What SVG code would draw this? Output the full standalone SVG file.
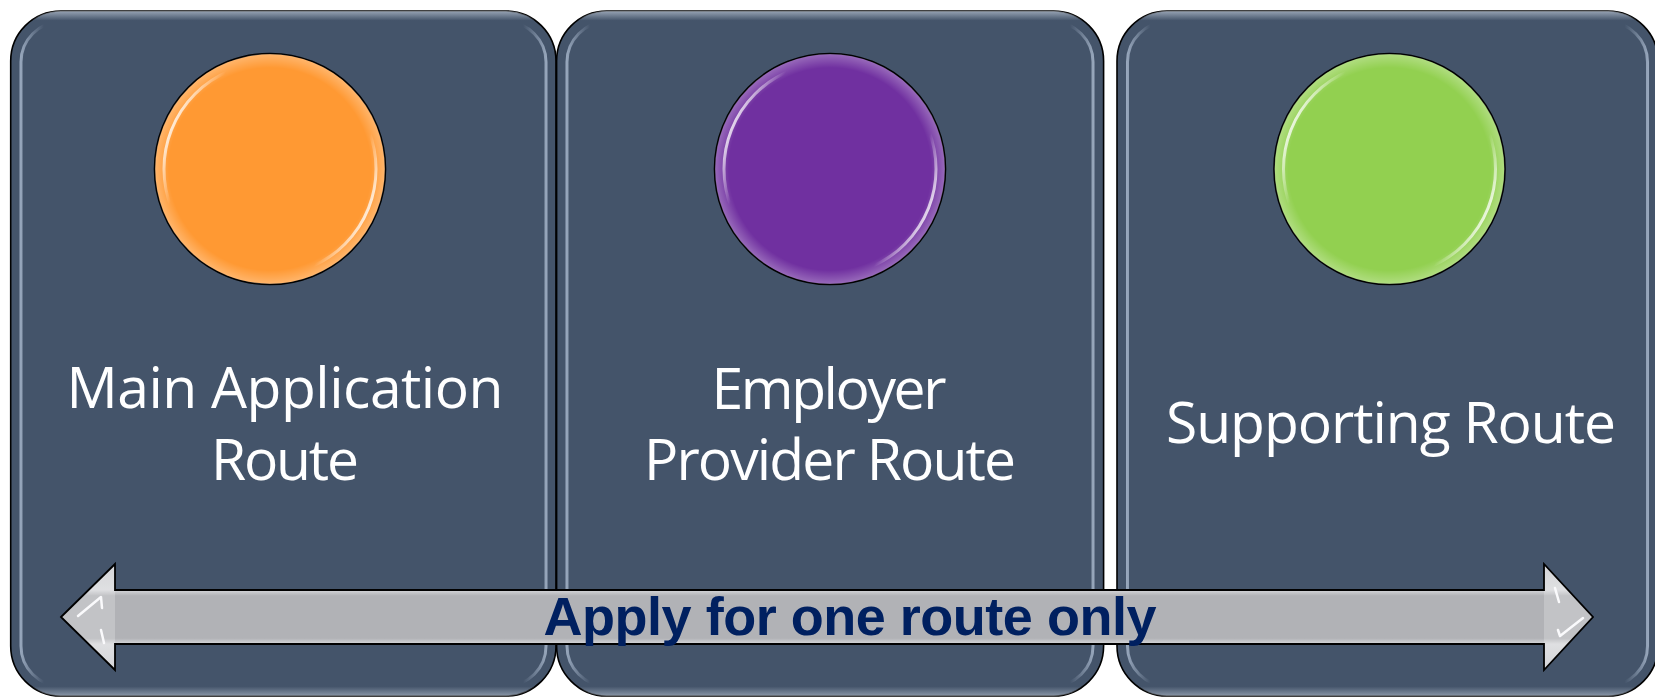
<svg xmlns="http://www.w3.org/2000/svg" width="1655" height="698" viewBox="0 0 1655 698">
<style>
.box{fill:#44546A;stroke:#000;stroke-width:1.6}
.boxhl{fill:none;stroke:#C9D8EC;stroke-width:3}
.label{font-family:"Open Sans","Liberation Sans",sans-serif;font-size:57px;fill:#FFFFFF;text-anchor:middle}
.ball{stroke:#000;stroke-width:1.6}
.ballhl{fill:none;stroke:#FFFFFF;stroke-width:3}
.arrowfill{fill:url(#arrowGrad);stroke:none}
.arrowline{fill:none;stroke:#000;stroke-width:1.8;stroke-linejoin:miter}
.headface{fill:#FFFFFF;opacity:0.22}
.arrowhl{fill:none;stroke:#FAFAFC;stroke-width:2.5;stroke-linecap:round;stroke-linejoin:round}
.apply{font-family:"Liberation Sans",Arial,sans-serif;font-weight:bold;font-size:54px;fill:#002060;text-anchor:middle}
</style>
<defs>
  <linearGradient id="edgeMaskGrad" x1="0" y1="0" x2="1" y2="0">
    <stop offset="0" stop-color="#fff"/>
    <stop offset="0.06" stop-color="#fff"/>
    <stop offset="0.12" stop-color="#000"/>
    <stop offset="0.88" stop-color="#000"/>
    <stop offset="0.94" stop-color="#fff"/>
    <stop offset="1" stop-color="#fff"/>
  </linearGradient>
  <mask id="edgeMask" maskContentUnits="objectBoundingBox">
    <rect x="-0.1" y="-0.1" width="1.2" height="1.2" fill="url(#edgeMaskGrad)"/>
  </mask>
  <linearGradient id="topBand" x1="0" y1="0" x2="0" y2="1">
    <stop offset="0" stop-color="#DDE6F2" stop-opacity="0.55"/>
    <stop offset="0.014" stop-color="#DDE6F2" stop-opacity="0"/>
    <stop offset="0.986" stop-color="#DDE6F2" stop-opacity="0"/>
    <stop offset="1" stop-color="#DDE6F2" stop-opacity="0.45"/>
  </linearGradient>
  <linearGradient id="ballMaskGrad" gradientUnits="userSpaceOnUse" x1="-106" y1="-45" x2="106" y2="45">
    <stop offset="0" stop-color="#fff"/>
    <stop offset="0.16" stop-color="#000"/>
    <stop offset="0.84" stop-color="#000"/>
    <stop offset="1" stop-color="#fff"/>
  </linearGradient>
  <mask id="ballMask" maskUnits="userSpaceOnUse" x="-130" y="-130" width="260" height="260">
    <rect x="-130" y="-130" width="260" height="260" fill="url(#ballMaskGrad)"/>
  </mask>
  <radialGradient id="ballRim" cx="0.5" cy="0.5" r="0.5">
    <stop offset="0.88" stop-color="#fff" stop-opacity="0"/>
    <stop offset="1" stop-color="#fff" stop-opacity="0.28"/>
  </radialGradient>
  <linearGradient id="arrowGrad" gradientUnits="userSpaceOnUse" x1="0" y1="564" x2="0" y2="670">
    <stop offset="0" stop-color="#C9CACE"/>
    <stop offset="0.245" stop-color="#D6D7DA"/>
    <stop offset="0.3" stop-color="#B1B2B6"/>
    <stop offset="0.7" stop-color="#B1B2B6"/>
    <stop offset="0.755" stop-color="#D6D7DA"/>
    <stop offset="1" stop-color="#C9CACE"/>
  </linearGradient>
</defs>

<g id="node-main">
  <rect class="box" x="10.7" y="11" width="545.3" height="685" rx="50" ry="50"/>
  <rect x="10.7" y="11" width="545.3" height="685" rx="50" ry="50" fill="url(#topBand)"/>
  <rect class="boxhl" x="21" y="22" width="525" height="664" rx="40" ry="40" mask="url(#edgeMask)"/>
  <g transform="translate(270,169)">
    <circle class="ball" r="115.5" fill="#FF9933"/>
    <circle r="115" fill="url(#ballRim)"/>
    <circle class="ballhl" r="106" mask="url(#ballMask)"/>
  </g>
  <text class="label" x="285" y="408" textLength="437">Main Application</text>
  <text class="label" x="285" y="480" textLength="148">Route</text>
</g>

<g id="node-employer">
  <rect class="box" x="556.6" y="11" width="547" height="685" rx="50" ry="50"/>
  <rect x="556.6" y="11" width="547" height="685" rx="50" ry="50" fill="url(#topBand)"/>
  <rect class="boxhl" x="567" y="22" width="526" height="664" rx="40" ry="40" mask="url(#edgeMask)"/>
  <g transform="translate(830,169)">
    <circle class="ball" r="115.5" fill="#7030A0"/>
    <circle r="115" fill="url(#ballRim)"/>
    <circle class="ballhl" r="106" mask="url(#ballMask)" stroke="#E8D4FF"/>
  </g>
  <text class="label" x="829" y="409" textLength="235">Employer</text>
  <text class="label" x="830" y="480" textLength="372">Provider Route</text>
</g>

<g id="node-supporting">
  <rect class="box" x="1117" y="11" width="541" height="685" rx="50" ry="50"/>
  <rect x="1117" y="11" width="541" height="685" rx="50" ry="50" fill="url(#topBand)"/>
  <rect class="boxhl" x="1127.5" y="22" width="520" height="664" rx="40" ry="40" mask="url(#edgeMask)"/>
  <g transform="translate(1389.5,169)">
    <circle class="ball" r="115.5" fill="#92D050"/>
    <circle r="115" fill="url(#ballRim)"/>
    <circle class="ballhl" r="106" mask="url(#ballMask)"/>
  </g>
  <text class="label" x="1391" y="443" textLength="450">Supporting Route</text>
</g>

<g id="connectors">
  <polygon class="arrowfill" points="61,617 115,564 115,590 1544,590 1544,564 1593,617 1544,670 1544,644 115,644 115,670"/>
  <polygon class="headface" points="61,617 115,564 115,670"/>
  <polygon class="headface" points="1544,564 1593,617 1544,670"/>
  <polyline class="arrowhl" points="78,616 101,597 102,608"/>
  <polyline class="arrowhl" points="101,630 104,643"/>
  <polyline class="arrowhl" points="1555,588 1559,602"/>
  <polyline class="arrowhl" points="1558,630 1560,636 1583,618"/>
  <polygon class="arrowline" points="61,617 115,564 115,590 1544,590 1544,564 1593,617 1544,670 1544,644 115,644 115,670"/>
  <text class="apply" x="850" y="635" textLength="613">Apply for one route only</text>
</g>
</svg>
